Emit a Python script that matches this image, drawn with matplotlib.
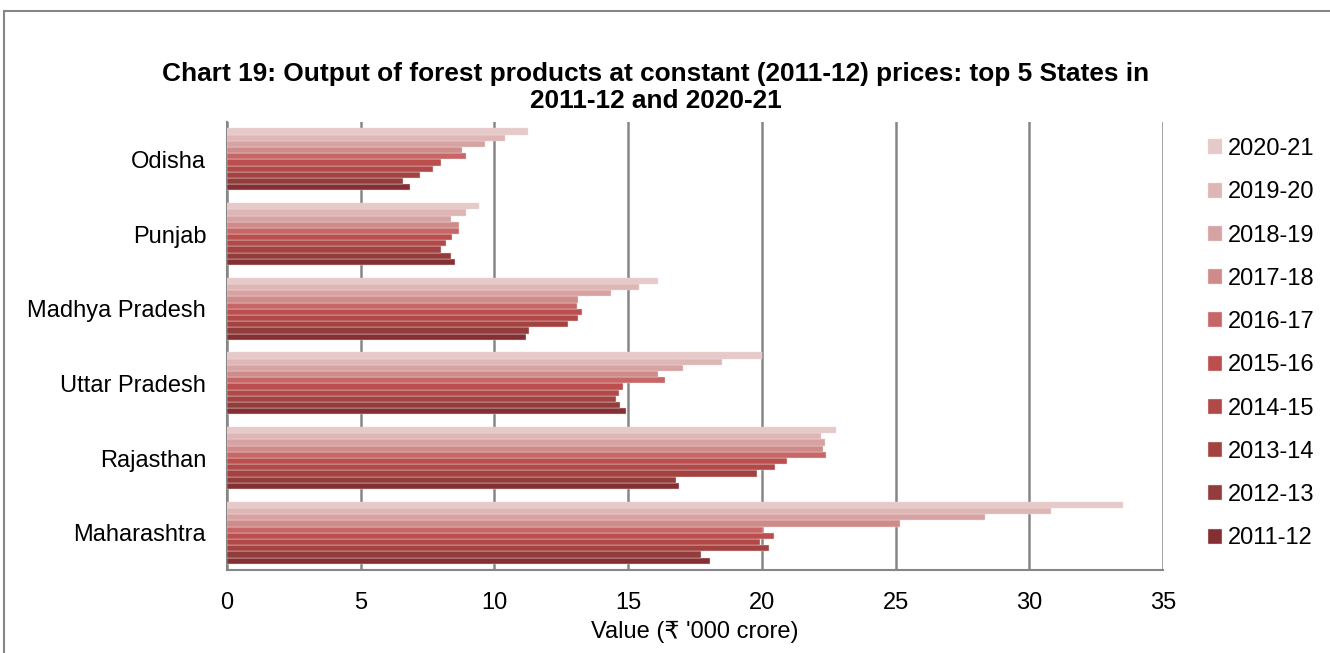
import numpy as np
import matplotlib.pyplot as plt
from matplotlib.lines import Line2D

plt.rcParams['font.family'] = ['Liberation Sans', 'DejaVu Sans']

# states, bottom to top as drawn
states = ['Maharashtra', 'Rajasthan', 'Uttar Pradesh', 'Madhya Pradesh', 'Punjab', 'Odisha']
years = ['2011-12', '2012-13', '2013-14', '2014-15', '2015-16',
         '2016-17', '2017-18', '2018-19', '2019-20', '2020-21']

# values in Rs '000 crore, one list per year, in the order of `states`
v2011 = [18.07, 16.89, 14.92, 11.19, 8.54, 6.83]
v2012 = [17.73, 16.78, 14.71, 11.28, 8.39, 6.58]
v2013 = [20.25, 19.81, 14.56, 12.76, 7.99, 7.22]
v2014 = [19.92, 20.51, 14.66, 13.13, 8.20, 7.70]
v2015 = [20.46, 20.95, 14.82, 13.26, 8.41, 8.00]
v2016 = [20.05, 22.40, 16.38, 13.09, 8.66, 8.95]
v2017 = [25.18, 22.29, 16.12, 13.13, 8.69, 8.80]
v2018 = [28.34, 22.37, 17.07, 14.36, 8.39, 9.65]
v2019 = [30.82, 22.20, 18.50, 15.41, 8.93, 10.40]
v2020 = [33.52, 22.79, 20.00, 16.12, 9.42, 11.27]
values = [v2011, v2012, v2013, v2014, v2015, v2016, v2017, v2018, v2019, v2020]

colors = ['#832F33', '#923C3B', '#A24341', '#B14949', '#BC4E4E',
          '#C66666', '#CF8A8A', '#D6A2A2', '#DEB6B6', '#E6C9C9']

fig = plt.figure(figsize=(13.3, 6.53), dpi=100)
ax = fig.add_axes([0.1707, 0.127, 0.7037, 0.686])

y = np.arange(len(states))
h = 0.083
for j, (yr, vals) in enumerate(zip(years, values)):
    ax.barh(y + (j - 4.5) * h, vals, height=h, color=colors[j],
            edgecolor='#f0dcdc', linewidth=0.3, label=yr, zorder=3)

ax.set_xlim(0, 35)
ax.set_ylim(-0.5, 5.5)
ax.set_xticks(np.arange(0, 36, 5))
ax.set_yticks(y)
ax.set_yticklabels(states, fontsize=17)
ax.tick_params(axis='x', labelsize=17, length=0, pad=16)
ax.tick_params(axis='y', length=0, pad=15)
ax.grid(axis='x', color='#868686', linewidth=1.8, zorder=0)
for s in ['top', 'right']:
    ax.spines[s].set_visible(False)
ax.spines['left'].set_color('#868686')
ax.spines['left'].set_linewidth(1.5)
ax.spines['bottom'].set_color('#868686')
ax.spines['bottom'].set_linewidth(1.5)
ax.set_xlabel("Value (₹ '000 crore)", fontsize=17, labelpad=5)

handles, labels = ax.get_legend_handles_labels()
ax.legend(handles[::-1], labels[::-1], loc='center left', bbox_to_anchor=(1.038, 0.505),
          frameon=False, fontsize=17, handlelength=0.6, handleheight=0.6,
          handletextpad=0.25, labelspacing=0.9, borderaxespad=0)

fig.text(0.493, 0.866, 'Chart 19: Output of forest products at constant (2011-12) prices: top 5 States in\n2011-12 and 2020-21',
         ha='center', va='center', fontsize=18.9, fontweight='bold', linespacing=1.2)

fig.add_artist(Line2D([0.003, 1.0], [0.983, 0.983], color='#868686', linewidth=1.5))
fig.add_artist(Line2D([0.003, 0.003], [0.0, 0.983], color='#868686', linewidth=1.5))

fig.savefig('out.png', dpi=100)
